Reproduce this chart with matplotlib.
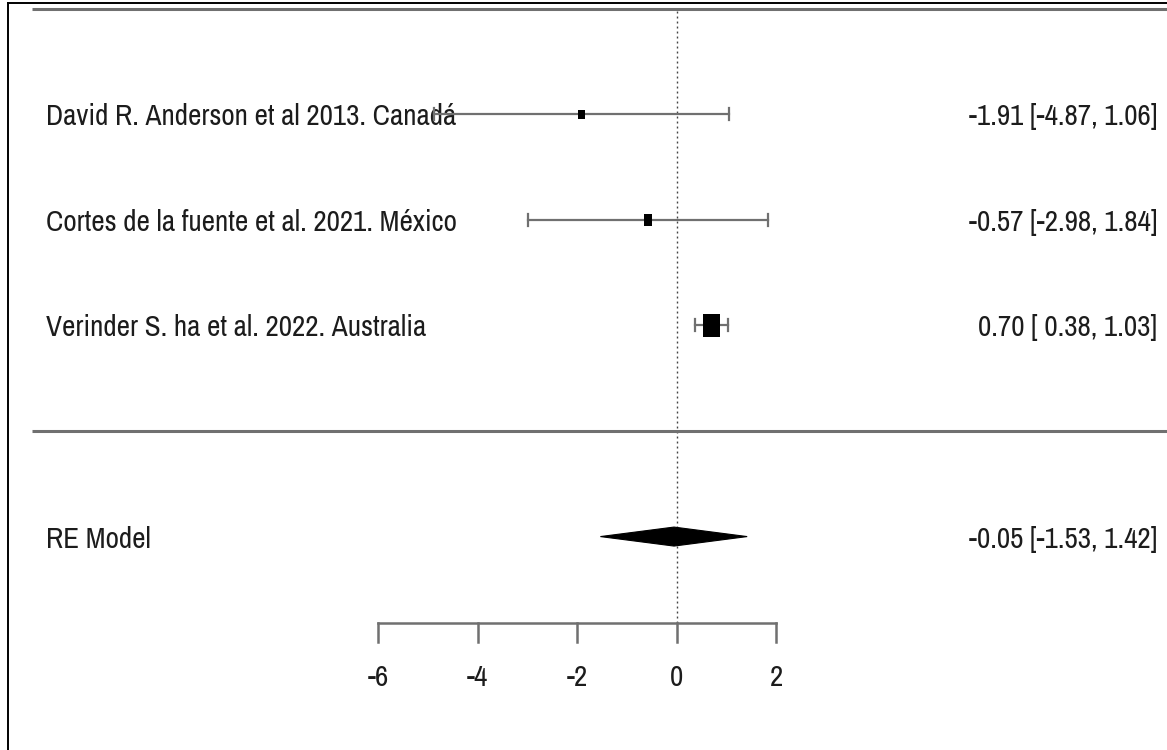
import matplotlib.pyplot as plt
import matplotlib.patches as mpatches

# Datos del forest plot (efecto e IC 95%)
estudios = [
    "David R. Anderson et al 2013. Canadá",
    "Cortes de la fuente et al. 2021. México",
    "Verinder S. ha et al. 2022. Australia",
]
efecto = [-1.91, -0.57, 0.70]
ic_inf = [-4.87, -2.98, 0.38]
ic_sup = [1.06, 1.84, 1.03]

modelo_etiqueta = "RE Model"
modelo_efecto = -0.05
modelo_inf = -1.53
modelo_sup = 1.42

ticks_x = [-6, -4, -2, 0, 2]

# Tamaño de los cuadrados (px, ancho x alto) según el peso de cada estudio
caja_px = [(7, 9), (8, 12), (17, 23)]

# Fuente estrecha, parecida a Arial Narrow
plt.rcParams["font.family"] = ["Archivo Narrow", "DejaVu Sans"]
tam = 21

# Escala: unidades por píxel
px_x = 49.75
px_y = 105.6

fig = plt.figure(figsize=(11.67, 7.5), dpi=100)
ax = fig.add_axes([0, 0, 1, 1])
ax.set_xlim(-13.598, 9.859)
ax.set_ylim(-3.021, 4.081)
ax.axis("off")

k = len(estudios)
filas = list(range(k, 0, -1))
gris = "#707070"
texto_color = "#1c1c1c"

x_izq = -12.67
x_der = 9.66
x_linea = -12.95

# Líneas horizontales superior y de separación
ax.plot([x_linea, 9.859], [k + 1, k + 1], color=gris, lw=2.2, solid_capstyle="butt")
ax.plot([x_linea, 9.859], [0, 0], color=gris, lw=2.2, solid_capstyle="butt")

# Línea de referencia en 0
eje_y = -1.815
ax.plot([0, 0], [eje_y, k + 1], color="#444444", lw=1.0, dashes=(1.4, 2.2), zorder=1)

# Estudios
for fila, nombre, est, lo, hi, (w, h) in zip(filas, estudios, efecto, ic_inf, ic_sup, caja_px):
    ax.text(x_izq, fila, nombre, ha="left", va="center_baseline", fontsize=tam,
            color=texto_color, zorder=2)
    ax.plot([lo, hi], [fila, fila], color=gris, lw=1.6, zorder=3)
    for extremo in (lo, hi):
        ax.plot([extremo, extremo], [fila - 6 / px_y, fila + 6 / px_y], color=gris, lw=1.6, zorder=3)
    ax.add_patch(mpatches.Rectangle((est - w / 2 / px_x, fila - h / 2 / px_y), w / px_x, h / px_y,
                                    facecolor="black", edgecolor="none", zorder=4))
    ax.text(x_der, fila, f"{est:.2f} [{lo:5.2f}, {hi:.2f}]", ha="right",
            va="center_baseline", fontsize=tam, color=texto_color)

# Modelo de efectos aleatorios
fila_m = -1
alto_d = 9.5 / px_y
ax.add_patch(mpatches.Polygon([(modelo_inf, fila_m), (modelo_efecto, fila_m + alto_d),
                               (modelo_sup, fila_m), (modelo_efecto, fila_m - alto_d)],
                              closed=True, facecolor="black", edgecolor="black", lw=0.8, zorder=4))
ax.text(x_izq, fila_m, modelo_etiqueta, ha="left", va="center_baseline", fontsize=tam, color=texto_color)
ax.text(x_der, fila_m, f"{modelo_efecto:.2f} [{modelo_inf:.2f}, {modelo_sup:.2f}]", ha="right",
        va="center_baseline", fontsize=tam, color=texto_color)

# Eje x manual
ax.plot([ticks_x[0], ticks_x[-1]], [eje_y, eje_y], color=gris, lw=1.8, solid_capstyle="projecting")
for t in ticks_x:
    ax.plot([t, t], [eje_y, eje_y - 19 / px_y], color=gris, lw=1.8)
    ax.text(t, -2.33, f"{t}", ha="center", va="center", fontsize=tam, color=texto_color)

# Borde del marco (izquierda y arriba)
fig.add_artist(plt.Line2D([8 / 1167, 8 / 1167], [0, 1 - 3 / 750], color="black", lw=1.4))
fig.add_artist(plt.Line2D([8 / 1167, 1], [1 - 3 / 750, 1 - 3 / 750], color="black", lw=1.4))

fig.savefig("out.png", dpi=100, facecolor="white")
plt.close(fig)
